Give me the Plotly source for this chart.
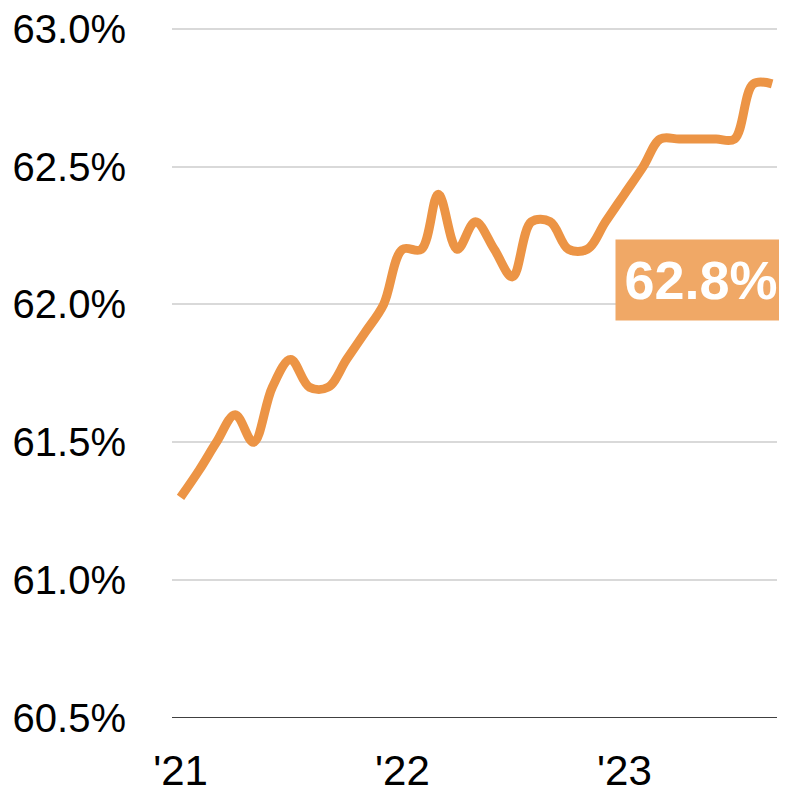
import plotly.graph_objects as go

months = [
    "2021-01-01", "2021-02-01", "2021-03-01", "2021-04-01", "2021-05-01", "2021-06-01",
    "2021-07-01", "2021-08-01", "2021-09-01", "2021-10-01", "2021-11-01", "2021-12-01",
    "2022-01-01", "2022-02-01", "2022-03-01", "2022-04-01", "2022-05-01", "2022-06-01",
    "2022-07-01", "2022-08-01", "2022-09-01", "2022-10-01", "2022-11-01", "2022-12-01",
    "2023-01-01", "2023-02-01", "2023-03-01", "2023-04-01", "2023-05-01", "2023-06-01",
    "2023-07-01", "2023-08-01", "2023-09-01",
]
rate = [
    61.3, 61.4, 61.5, 61.6, 61.5, 61.7,
    61.8, 61.7, 61.7, 61.8, 61.9, 62.0,
    62.2, 62.2, 62.4, 62.2, 62.3, 62.2,
    62.1, 62.3, 62.3, 62.2, 62.2, 62.3,
    62.4, 62.5, 62.6, 62.6, 62.6, 62.6,
    62.6, 62.8, 62.8,
]
y_ticks = [60.5, 61.0, 61.5, 62.0, 62.5, 63.0]
y_tick_text = ["60.5%", "61.0%", "61.5%", "62.0%", "62.5%", "63.0%"]
x_ticks = ["2021-01-01", "2022-01-01", "2023-01-01"]
x_tick_text = ["'21", "'22", "'23"]

LINE = "#EC9445"
BOX = "#F0A866"
FONT = "Liberation Sans Narrow, Arial Narrow, Liberation Sans, Arial, sans-serif"

fig = go.Figure()
fig.add_trace(go.Scatter(
    x=months, y=rate, mode="lines",
    line=dict(color=LINE, width=9, shape="spline", smoothing=1.0),
    hoverinfo="skip",
))

fig.add_annotation(
    xref="paper", yref="y", x=1.0165, y=62.09,
    xanchor="right", yanchor="middle",
    text=f"<b>{rate[-1]:.1f}%</b>",
    showarrow=False,
    font=dict(family="Liberation Sans, Arial, sans-serif", size=54, color="white"),
    bgcolor=BOX, width=166, height=76, borderpad=2, align="center",
)

fig.update_layout(
    width=787, height=797,
    margin=dict(l=164, r=18, t=18, b=87),
    plot_bgcolor="white", paper_bgcolor="white",
    showlegend=False,
    font=dict(family=FONT, size=40, color="black"),
    xaxis=dict(
        type="date",
        range=["2020-12-18", "2023-09-09"],
        tickvals=x_ticks, ticktext=x_tick_text,
        showgrid=False, zeroline=False,
        showline=False, automargin=False,
        ticks="", ticklabelstandoff=24, ticklabeloverflow="allow",
        tickfont=dict(family=FONT, size=42, color="black"),
    ),
    yaxis=dict(
        range=[60.5, 63.01],
        tickvals=y_ticks, ticktext=y_tick_text,
        showgrid=True, gridcolor="#D9D9D9", gridwidth=2,
        zeroline=False, showline=False, ticks="", automargin=False,
        ticklabelstandoff=45, ticklabeloverflow="allow",
        tickfont=dict(family=FONT, size=40, color="black"),
    ),
)

fig.add_shape(type="line", xref="paper", yref="y", x0=0, x1=1, y0=60.5, y1=60.5,
              line=dict(color="black", width=1.5), layer="above")

fig.write_html("out.html")
